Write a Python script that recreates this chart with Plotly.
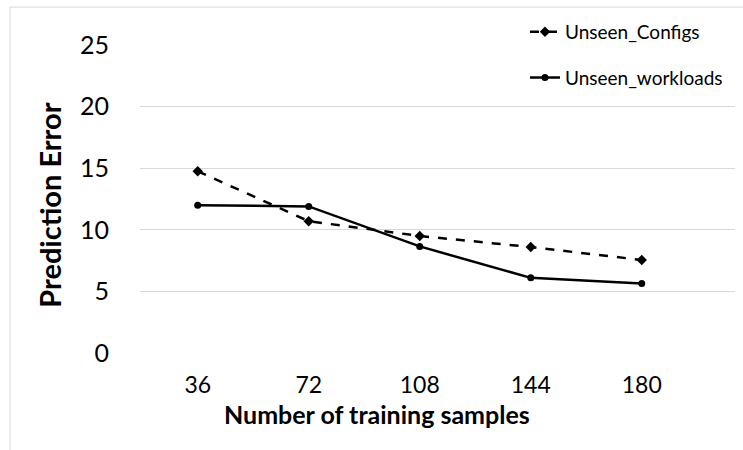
import plotly.graph_objects as go

samples = ["36", "72", "108", "144", "180"]
unseen_configs = [14.75, 10.7, 9.5, 8.6, 7.55]
unseen_workloads = [12.0, 11.9, 8.65, 6.1, 5.65]
y_ticks = [0, 5, 10, 15, 20, 25]

FONT = "Lato, 'Open Sans', sans-serif"
xi = list(range(len(samples)))

fig = go.Figure()
fig.add_trace(go.Scatter(
    x=xi, y=unseen_configs, name="Unseen_Configs", mode="lines+markers",
    line=dict(color="black", width=2.5, dash="dash"),
    marker=dict(symbol="diamond", size=8, color="black"),
    legendgroup="a"))
fig.add_trace(go.Scatter(
    x=xi, y=unseen_workloads, name="Unseen_workloads", mode="lines+markers",
    line=dict(color="black", width=2.5),
    marker=dict(symbol="circle", size=7, color="black"),
    legendgroup="b"))

fig.update_layout(
    width=743, height=450,
    margin=dict(l=140, r=8, t=45, b=97, autoexpand=False),
    paper_bgcolor="white", plot_bgcolor="white",
    font=dict(family=FONT, color="black"),
    showlegend=True,
    legend=dict(x=0.647, y=1.104, xanchor="left", yanchor="top",
                bgcolor="rgba(0,0,0,0)", font=dict(size=19, family=FONT),
                tracegroupgap=18, itemwidth=30),
    xaxis=dict(range=[-0.52, 4.84], tickvals=xi, ticktext=samples,
               showgrid=False, zeroline=False, showline=False,
               tickfont=dict(size=23), ticks="", ticklabelstandoff=16),
    yaxis=dict(range=[0, 25], tickvals=y_ticks, showgrid=True,
               gridcolor="#d9d9d9", gridwidth=1, zeroline=False,
               showline=False, tickfont=dict(size=25), ticks="",
               ticklabelstandoff=30),
    annotations=[
        dict(text="<b>Number of training samples</b>", xref="paper", yref="paper",
             x=0.398, y=-0.198, xanchor="center", yanchor="middle",
             showarrow=False, font=dict(size=25, family=FONT)),
        dict(text="<b>Prediction Error</b>", xref="paper", yref="paper",
             x=-0.152, y=0.48, xanchor="center", yanchor="middle", textangle=-90,
             showarrow=False, font=dict(size=29, family=FONT)),
    ],
    shapes=[dict(type="rect", xref="paper", yref="paper",
                 x0=-0.2185, x1=1.03, y0=-0.32, y1=1.123,
                 line=dict(color="#d9d9d9", width=1), layer="below")],
)

fig.write_html("out.html", config={"displayModeBar": False},
               post_script="document.body.style.margin='0';")
